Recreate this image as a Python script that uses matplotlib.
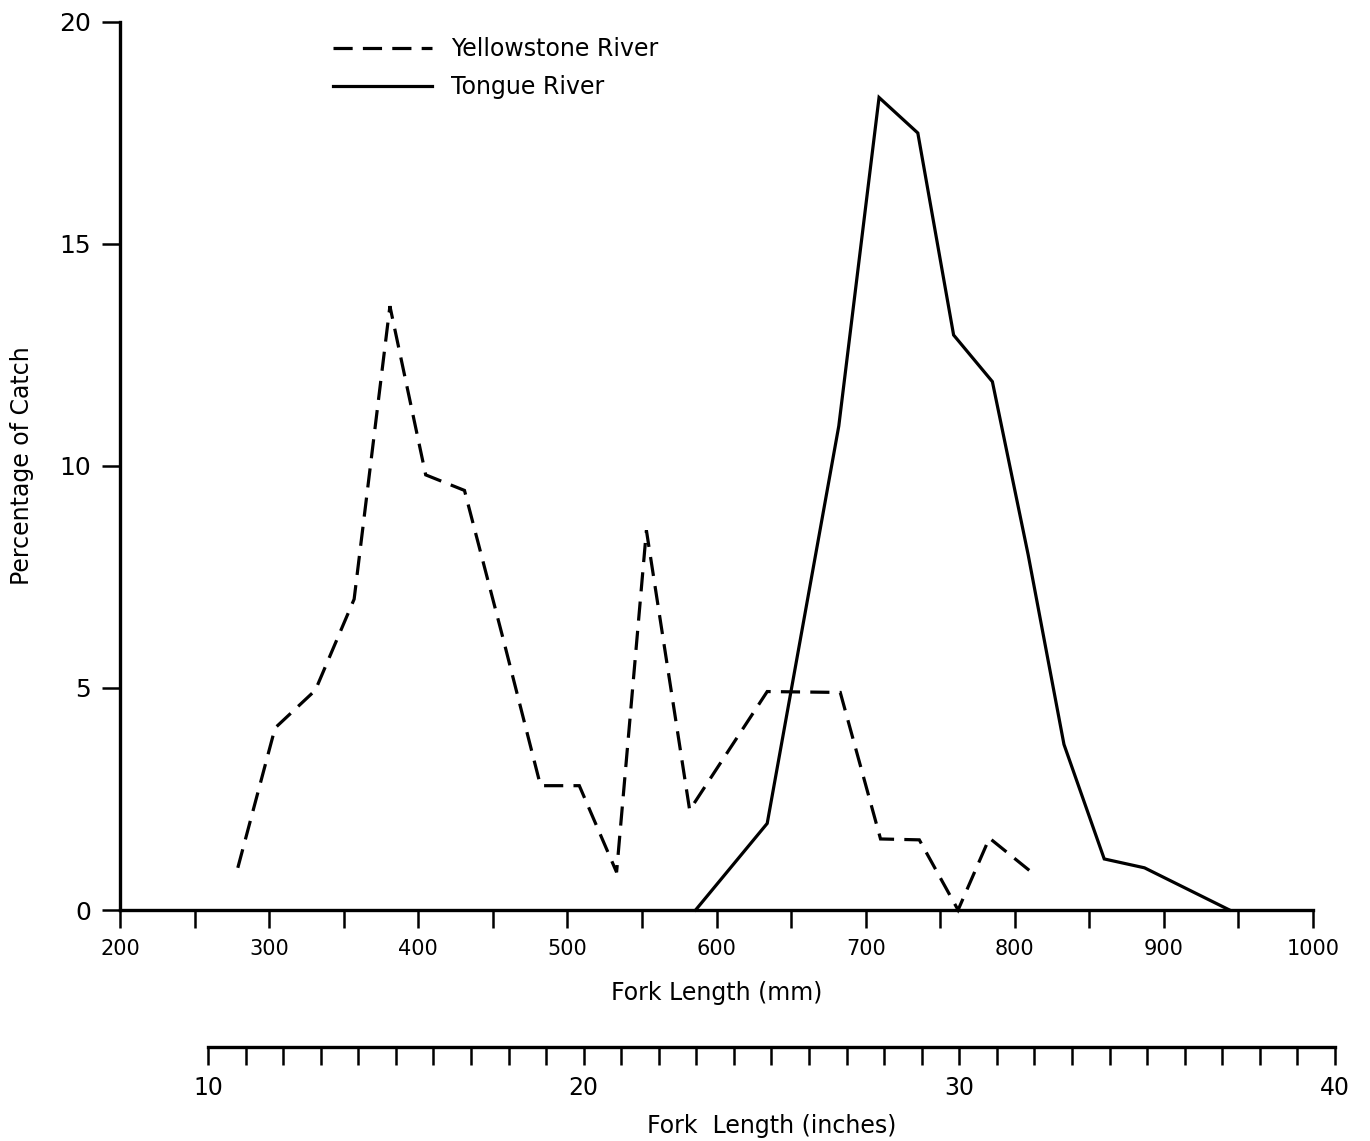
import matplotlib
matplotlib.use("Agg")
import matplotlib.pyplot as plt
from matplotlib.ticker import MultipleLocator, FixedLocator

# ---- data ----
yellowstone_mm = [279, 304, 331, 357, 381, 405, 431, 457, 482, 508, 533, 553,
                  582, 634, 683, 710, 736, 762, 783, 815]
yellowstone_pct = [0.95, 4.1, 4.95, 7.0, 13.6, 9.8, 9.45, 6.1, 2.8, 2.8, 0.85,
                   8.55, 2.25, 4.92, 4.9, 1.6, 1.58, 0.0, 1.62, 0.75]

tongue_mm = [586, 634, 682, 709, 735, 759, 785, 809, 833, 860, 887, 944]
tongue_pct = [0.0, 1.95, 10.9, 18.3, 17.5, 12.95, 11.9, 8.0, 3.73, 1.15, 0.95, 0.0]

mm_ticks = [200, 300, 400, 500, 600, 700, 800, 900, 1000]
pct_ticks = [0, 5, 10, 15, 20]
inch_ticks = [10, 20, 30, 40]

W, H = 1370, 1141
fig = plt.figure(figsize=(W / 100, H / 100), dpi=100)
plt.rcParams['font.family'] = ['DejaVu Sans']

# main axes
L, R, B, T = 120, 1313, 910, 22
ax = fig.add_axes([L / W, 1 - B / H, (R - L) / W, (B - T) / H])
ax.set_xlim(200, 1000)
ax.set_ylim(0, 20)
for s in ['top', 'right']:
    ax.spines[s].set_visible(False)
for s in ['left', 'bottom']:
    ax.spines[s].set_linewidth(2.4)

ax.plot(yellowstone_mm, yellowstone_pct, color='black', lw=2.3,
        linestyle=(0, (6.0, 3.2)), solid_joinstyle='miter', dash_joinstyle='miter',
        label='Yellowstone River', clip_on=False)
ax.plot(tongue_mm, tongue_pct, color='black', lw=2.3,
        solid_joinstyle='miter', label='Tongue River', clip_on=False)

ax.xaxis.set_major_locator(FixedLocator(mm_ticks))
ax.xaxis.set_minor_locator(MultipleLocator(50))
ax.yaxis.set_major_locator(FixedLocator(pct_ticks))
ax.tick_params(axis='x', which='both', direction='out', length=13, width=1.8,
               labelsize=15, pad=8)
ax.tick_params(axis='y', which='major', direction='out', length=13, width=1.8,
               labelsize=18, pad=8)
ax.set_xlabel('Fork Length (mm)', fontsize=17, labelpad=16)
ax.set_ylabel('Percentage of Catch', fontsize=17, labelpad=18)

leg = ax.legend(loc='upper left', bbox_to_anchor=((333 - L) / (R - L), (B - 37) / (B - T)),
                frameon=False, fontsize=17, handlelength=4.2, handletextpad=0.8,
                labelspacing=0.6, borderpad=0, borderaxespad=0)

# secondary inch axis
IL, IR, IY = 208, 1335, 1047
ax2 = fig.add_axes([IL / W, 1 - IY / H, (IR - IL) / W, 0.0001])
ax2.set_xlim(10, 40)
ax2.set_yticks([])
for s in ['left', 'right', 'bottom']:
    ax2.spines[s].set_visible(False)
ax2.spines['top'].set_linewidth(2.4)
ax2.xaxis.set_ticks_position('top')
ax2.xaxis.set_major_locator(FixedLocator(inch_ticks))
ax2.xaxis.set_minor_locator(MultipleLocator(1))
ax2.tick_params(axis='x', which='both', direction='in', length=13, width=1.8,
                labelsize=17, pad=-38, top=True, bottom=False, labeltop=True)
ax2.patch.set_visible(False)
fig.text((IL + IR) / 2 / W, 1 - 1126 / H, 'Fork  Length (inches)', fontsize=17,
         ha='center', va='center')

fig.savefig('out.png', dpi=100)
